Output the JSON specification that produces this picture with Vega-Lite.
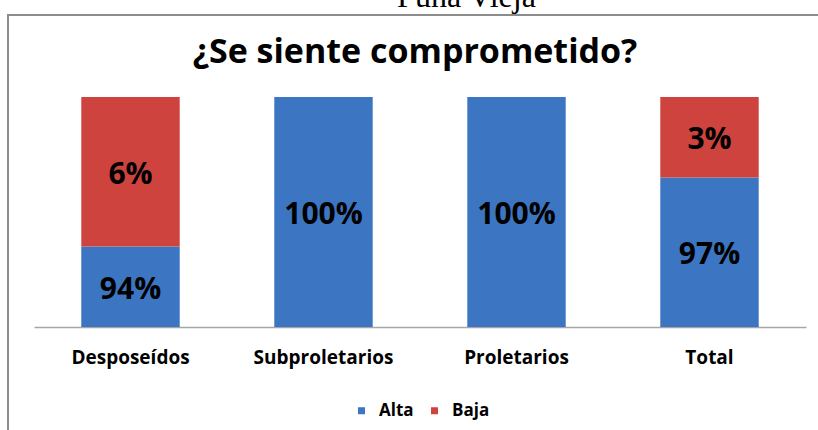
{
  "$schema": "https://vega.github.io/schema/vega-lite/v6.json",
  "width": 814,
  "height": 418,
  "autosize": {"type": "none"},
  "padding": {"left": 8, "top": 15, "right": -4, "bottom": -3},
  "background": "white",
  "title": {
    "text": "¿Se siente comprometido?",
    "frame": "group",
    "anchor": "middle",
    "offset": -50,
    "dy": 67,
    "baseline": "alphabetic",
    "font": "Open Sans",
    "fontSize": 34,
    "fontWeight": "bold",
    "color": "#000000"
  },
  "data": {
    "values": [
      {"grupo": "Desposeídos", "serie": "Alta", "valor": 0.35, "etiqueta": "94%"},
      {"grupo": "Desposeídos", "serie": "Baja", "valor": 0.65, "etiqueta": "6%"},
      {"grupo": "Subproletarios", "serie": "Alta", "valor": 1.0, "etiqueta": "100%"},
      {"grupo": "Proletarios", "serie": "Alta", "valor": 1.0, "etiqueta": "100%"},
      {"grupo": "Total", "serie": "Alta", "valor": 0.65, "etiqueta": "97%"},
      {"grupo": "Total", "serie": "Baja", "valor": 0.35, "etiqueta": "3%"}
    ]
  },
  "transform": [
    {"stack": "valor", "groupby": ["grupo"], "sort": [{"field": "serie", "order": "ascending"}], "as": ["v0", "v1"]},
    {"calculate": "(datum.v0 + datum.v1) / 2", "as": "medio"}
  ],
  "layer": [
    {
      "mark": {"type": "bar"},
      "encoding": {
        "x": {
          "field": "grupo",
          "type": "nominal",
          "sort": ["Desposeídos", "Subproletarios", "Proletarios", "Total"],
          "scale": {"range": [26, 798], "paddingInner": 0.49, "paddingOuter": 0.245},
          "axis": {
            "orient": "bottom",
            "offset": -106,
            "title": null,
            "labelAngle": 0,
            "ticks": false,
            "tickSize": 0,
            "labelPadding": 21,
            "labelFont": "Open Sans",
            "labelFontWeight": "bold",
            "labelFontSize": 19,
            "labelColor": "#000000",
            "domainColor": "#a6a6a6",
            "domainWidth": 1.5,
            "grid": false
          }
        },
        "y": {
          "field": "v0",
          "type": "quantitative",
          "scale": {"domain": [0, 1], "range": [312, 82], "nice": false},
          "axis": null
        },
        "y2": {"field": "v1"},
        "color": {
          "field": "serie",
          "type": "nominal",
          "scale": {"domain": ["Alta", "Baja"], "range": ["#3c76c3", "#cf433f"]},
          "legend": {
            "orient": "none",
            "legendX": 345,
            "legendY": 387,
            "direction": "horizontal",
            "title": null,
            "padding": 0,
            "symbolType": "square",
            "symbolSize": 49,
            "symbolStrokeWidth": 0,
            "labelFont": "Open Sans",
            "labelFontWeight": "bold",
            "labelFontSize": 17,
            "labelColor": "#000000",
            "labelOffset": 9,
            "columnPadding": 12
          }
        }
      }
    },
    {
      "mark": {"type": "text", "font": "Open Sans", "fontWeight": "bold", "fontSize": 30, "color": "#000000", "baseline": "middle", "align": "center", "dy": 3},
      "encoding": {
        "x": {
          "field": "grupo",
          "type": "nominal",
          "sort": ["Desposeídos", "Subproletarios", "Proletarios", "Total"],
          "axis": {
            "orient": "top",
            "labels": false,
            "ticks": false,
            "domain": false,
            "grid": false,
            "title": "Puna Vieja",
            "titleFont": "Liberation Serif",
            "titleFontSize": 32,
            "titleFontWeight": "normal",
            "titleColor": "#000000",
            "titleBaseline": "alphabetic",
            "titleAlign": "center",
            "titleX": 458,
            "titlePadding": 9
          }
        },
        "y": {"field": "medio", "type": "quantitative", "axis": null},
        "text": {"field": "etiqueta"}
      }
    }
  ],
  "resolve": {"axis": {"x": "independent"}},
  "config": {"view": {"stroke": "#8c8c8c", "strokeWidth": 2}}
}
